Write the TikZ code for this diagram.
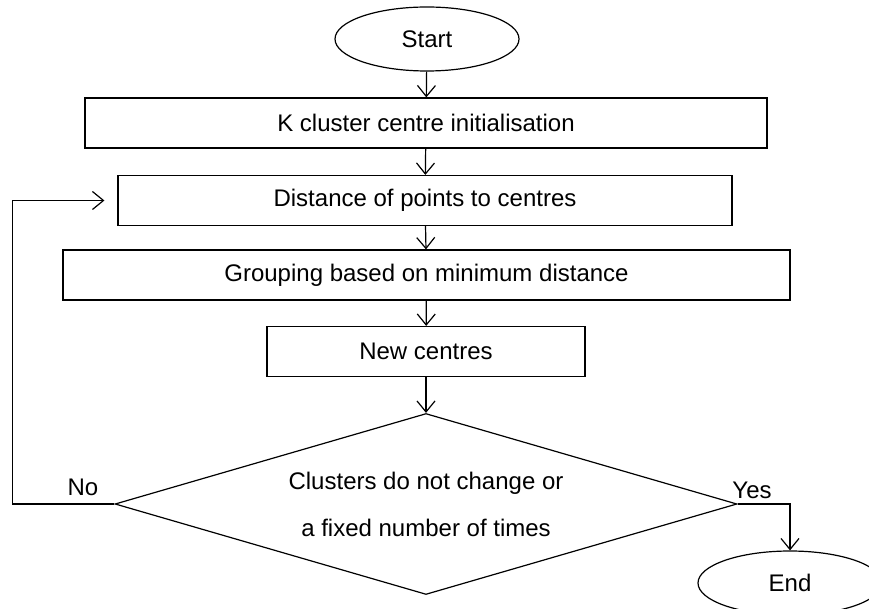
\documentclass[tikz,border=0pt]{standalone}
\usepackage{fontspec}
\setmainfont{Liberation Sans}
\usetikzlibrary{shapes.geometric,arrows.meta,positioning,calc}

\tikzset{
    box/.style={draw, line width=1.2pt, rectangle, minimum height=50pt, inner sep=0pt},
    term/.style={draw, line width=1.2pt, ellipse, minimum width=184pt, minimum height=64pt, inner sep=0pt},
    decision/.style={draw, line width=1.2pt, diamond, aspect=3.44, minimum width=622pt, minimum height=181pt, inner sep=0pt, align=center},
    flow/.style={line width=1.2pt, -{Straight Barb[length=11pt,width=18pt,line width=1.2pt]}}
}

\begin{document}
\begin{tikzpicture}[x=1pt, y=-1pt, font=\fontsize{24}{29}\selectfont]
    \useasboundingbox (0,0) rectangle (869,609);

    % Steps of the loop
    \node[term] (start) at (427,39) {Start};
    \node[box, minimum width=682pt] (init) at (426,123) {K cluster centre initialisation};
    \node[box, minimum width=614pt] (dist) at (425,200.5) {Distance of points to centres};
    \node[box, minimum width=727pt] (group) at (426.5,275) {Grouping based on minimum distance};
    \node[box, minimum width=318pt] (newc) at (426,351.5) {New centres};
    \node[decision] (check) at (426,504) {Clusters do not change or\\[18pt]a fixed number of times};
    \node[term] (stop) at (790,583) {End};

    % Arrows
    \draw[flow] (start) -- (init);
    \draw[flow] (init) -- (dist);
    \draw[flow] (dist) -- (group);
    \draw[flow] (group) -- (newc);
    \draw[flow] (newc) -- (check);

    % Back to the distances, or stop
    \draw[flow, shorten >=13pt] (check.west) -- ++(-102,0) |- (dist.west);
    \draw[flow] (check.east) -| (stop.north);

    \node at (83,487) {No};
    \node at (752,490) {Yes};
\end{tikzpicture}
\end{document}
